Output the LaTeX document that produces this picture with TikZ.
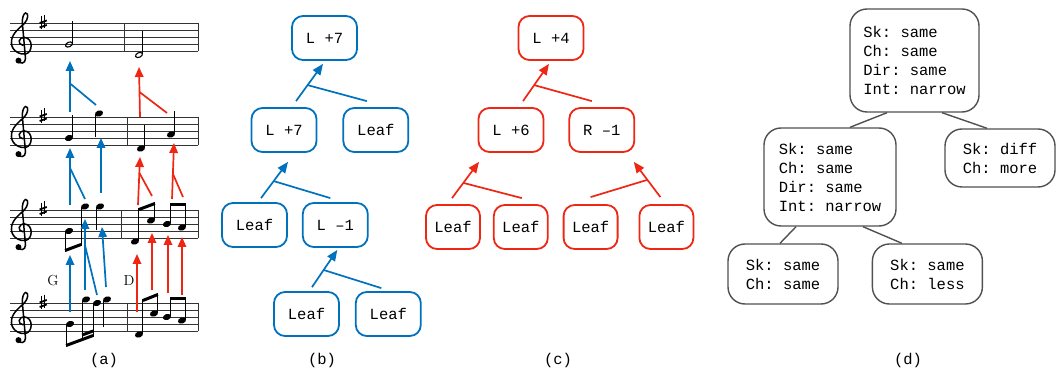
\documentclass[tikz,border=0pt]{standalone}
\usepackage{fontspec}
\setmonofont{Liberation Mono}
\usetikzlibrary{arrows.meta, positioning, calc}

\definecolor{treeblue}{RGB}{0,114,189}
\definecolor{treered}{RGB}{238,38,20}
\definecolor{treegray}{RGB}{80,80,80}

\tikzset{
	treebox/.style={draw, rounded corners=11pt, line width=1.8pt, minimum width=65pt, minimum height=44pt, inner sep=2pt, font=\ttfamily\fontsize{15.5}{19}\selectfont},
	bluebox/.style={treebox, draw=treeblue},
	redbox/.style={treebox, draw=treered},
	leafbox/.style={redbox, minimum width=54pt},
	infobox/.style={draw=treegray, rounded corners=17pt, line width=1.4pt, align=left, inner sep=2pt, font=\ttfamily\fontsize{15.5}{19}\selectfont},
	bluelink/.style={treeblue, line width=1.7pt},
	redlink/.style={treered, line width=1.7pt},
	graylink/.style={treegray, line width=1.4pt},
	staffline/.style={black!80, line width=0.9pt},
	notestem/.style={line width=0.9pt},
	beam/.style={line width=3pt},
	caption/.style={font=\ttfamily\fontsize{15.5}{19}\selectfont},
}

\newcommand{\gclef}[2]{%
	\begin{scope}[shift={(#1,#2)}, x=7.8pt, y=7pt]
		\draw[line width=1.5pt, line cap=round] (-0.45,-1.35) .. controls (-0.3,-1.8) and (0.45,-1.8) .. (0.45,-1.0)
			-- (0.05,4.0) .. controls (0.0,4.8) and (0.2,5.4) .. (0.45,5.5)
			.. controls (0.9,5.5) and (0.8,4.6) .. (0.3,4.0)
			.. controls (-0.6,3.1) and (-1.4,2.4) .. (-1.35,1.2)
			.. controls (-1.3,-0.1) and (0.0,-0.5) .. (0.5,-0.35)
			.. controls (1.4,-0.1) and (1.45,1.9) .. (0.35,2.0)
			.. controls (-0.5,2.05) and (-0.6,1.0) .. (0.1,0.9);
		\fill (-0.45,-1.3) circle (3pt);
	\end{scope}}

\newcommand{\drawstaff}[2]{%
	\foreach \k in {0,...,4} \draw[staffline] (10,#1+7*\k) -- (198,#1+7*\k);
	\draw[staffline] (#2,#1) -- (#2,#1+28) (198,#1) -- (198,#1+28);
	\gclef{22}{#1+28}
	\draw[line width=0.7pt] (41.8,#1-7) -- (41.8,#1+6) (44.6,#1-8.5) -- (44.6,#1+4.5);
	\draw[line width=1.8pt] (39.6,#1-0.5) -- (46.8,#1-3) (39.6,#1+4) -- (46.8,#1+1.5);
}
\newcommand{\qnote}[2]{\fill[shift={(#1,#2)}, rotate=20] (0,0) ellipse (4.2pt and 3pt);}
\newcommand{\hnote}[2]{\draw[line width=1.1pt, shift={(#1,#2)}, rotate=25] (0,0) ellipse (3.7pt and 2.3pt);}

\begin{document}
\begin{tikzpicture}[x=1pt, y=-1pt, >={Triangle[length=11pt,width=9pt]}]
	\useasboundingbox (0,0) rectangle (1057,371);

	% (a) staves and notes
	\drawstaff{23.5}{124}
	\drawstaff{117}{127}
	\drawstaff{210}{121}
	\drawstaff{303}{127}

	\hnote{69}{44.5} \draw[notestem] (72.8,44) -- (72.8,21);
	\hnote{139}{55} \draw[notestem] (142.8,54) -- (142.8,31);

	\qnote{69}{138} \draw[notestem] (72.9,137) -- (72.9,115);
	\qnote{99}{113.5} \draw[notestem] (95.1,114.5) -- (95.1,137);
	\qnote{141}{148.5} \draw[notestem] (144.9,147.5) -- (144.9,125);
	\qnote{171}{134.5} \draw[notestem] (174.9,133.5) -- (174.9,111);

	\qnote{69}{231} \draw[notestem] (65.1,232) -- (65.1,252);
	\qnote{85}{206.5} \draw[notestem] (81.1,207.5) -- (81.1,246);
	\draw[beam] (65.1,250.5) -- (81.1,244.5);
	\qnote{100}{206.5} \draw[notestem] (96.1,207.5) -- (96.1,230);
	\qnote{135}{241.5} \draw[notestem] (138.9,240.5) -- (138.9,208);
	\qnote{151}{220.5} \draw[notestem] (154.9,219.5) -- (154.9,202);
	\draw[beam] (138.9,209.5) -- (154.9,203.5);
	\qnote{167}{224} \draw[notestem] (170.9,223) -- (170.9,203);
	\qnote{182}{227.5} \draw[notestem] (185.9,226.5) -- (185.9,203);
	\draw[beam] (170.9,204.5) -- (185.9,204.5);

	\qnote{70}{324} \draw[notestem] (66.1,325) -- (66.1,347);
	\qnote{86}{299.5} \draw[notestem] (82.1,300.5) -- (82.1,341);
	\qnote{97}{303} \draw[notestem] (93.1,304) -- (93.1,337);
	\draw[beam] (66.1,345.5) -- (93.1,335.5);
	\draw[beam] (82.1,335) -- (93.1,331);
	\qnote{107}{299.5} \draw[notestem] (103.1,300.5) -- (103.1,327);
	\qnote{139}{334.5} \draw[notestem] (142.9,333.5) -- (142.9,299);
	\qnote{154}{313.5} \draw[notestem] (157.9,312.5) -- (157.9,293);
	\draw[beam] (142.9,300.5) -- (157.9,294.5);
	\qnote{167}{317} \draw[notestem] (170.9,316) -- (170.9,297);
	\qnote{182}{320.5} \draw[notestem] (185.9,319.5) -- (185.9,297);
	\draw[beam] (170.9,298.5) -- (185.9,298.5);

	\node (keyG) at (53,281) {\fontsize{14.5}{15}\selectfont G};
	\node (keyD) at (129,281) {\fontsize{14.5}{15}\selectfont D};

	\begin{scope}[>={Triangle[length=10pt,width=8.5pt]}]
		\draw[bluelink,->] (70,112) -- (70,61) coordinate[pos=.56] (aJ1);
		\draw[bluelink] (96,105) -- (aJ1);
		\draw[bluelink,->] (70,205) -- (70,148) coordinate[pos=.65] (aJ2);
		\draw[bluelink] (85,199) -- (aJ2);
		\draw[bluelink,->] (101,193) -- (101,138);
		\draw[bluelink,->] (70,312) -- (70,255);
		\draw[bluelink,->] (85,290) -- (85,219) coordinate[pos=.63] (aJ3);
		\draw[bluelink] (97,295) -- (aJ3);
		\draw[bluelink,->] (106,287) -- (102,227);

		\draw[redlink,->] (140,117) -- (139,67) coordinate[pos=.5] (aJ4);
		\draw[redlink] (167,113) -- (aJ4);
		\draw[redlink,->] (138,205) -- (140,157) coordinate[pos=.67] (aJ5);
		\draw[redlink] (152,196) -- (aJ5);
		\draw[redlink,->] (172,199) -- (174,143) coordinate[pos=.45] (aJ6);
		\draw[redlink] (183,197) -- (aJ6);
		\draw[redlink,->] (137,312) -- (137,254);
		\draw[redlink,->] (152,290) -- (152,233);
		\draw[redlink,->] (168,293) -- (168,235);
		\draw[redlink,->] (182,295) -- (182,237);
	\end{scope}

	% (b)
	\node[bluebox] (bTop) at (324.5,38) {L +7};
	\node[bluebox] (bL7) at (284,130) {L +7};
	\node[bluebox, right=25pt of bL7] (bLf) {Leaf};
	\node[bluebox] (bLf1) at (254.5,225) {Leaf};
	\node[bluebox, right=14pt of bLf1] (bLm1) {L –1};
	\node[bluebox] (bLf3) at (306.5,314) {Leaf};
	\node[bluebox, right=15pt of bLf3] (bLf4) {Leaf};

	\draw[bluelink,->] ([xshift=12pt,yshift=6pt]bL7.north) -- ([xshift=-1.5pt,yshift=-3pt]bTop.south) coordinate[pos=.43] (bJ1);
	\draw[bluelink] ([xshift=-9pt,yshift=6pt]bLf.north) -- (bJ1);
	\draw[bluelink,->] ([xshift=6.5pt,yshift=4pt]bLf1.north) -- ([xshift=4pt,yshift=-9pt]bL7.south) coordinate[pos=.47] (bJ2);
	\draw[bluelink] ([xshift=-5pt,yshift=4pt]bLm1.north) -- (bJ2);
	\draw[bluelink,->] ([xshift=5.5pt,yshift=4pt]bLf3.north) -- ([xshift=2pt,yshift=-2pt]bLm1.south) coordinate[pos=.46] (bJ3);
	\draw[bluelink] ([xshift=-7pt,yshift=3pt]bLf4.north) -- (bJ3);

	% (c)
	\node[redbox] (cTop) at (551,38) {L +4};
	\node[redbox] (cL6) at (511,130) {L +6};
	\node[redbox, right=24pt of cL6] (cR1) {R –1};
	\node[leafbox] (cLf1) at (453,227) {Leaf};
	\node[leafbox, right=12pt of cLf1] (cLf2) {Leaf};
	\node[leafbox, right=14pt of cLf2] (cLf3) {Leaf};
	\node[leafbox, right=20pt of cLf3] (cLf4) {Leaf};

	\draw[redlink,->] ([xshift=12pt,yshift=6pt]cL6.north) -- ([xshift=-2pt,yshift=-3pt]cTop.south) coordinate[pos=.43] (cJ1);
	\draw[redlink] ([xshift=-10pt,yshift=6pt]cR1.north) -- (cJ1);
	\draw[redlink,->] ([xshift=-1pt,yshift=6pt]cLf1.north) -- ([xshift=-32pt,yshift=-9pt]cL6.south) coordinate[pos=.42] (cJ2);
	\draw[redlink] ([xshift=1pt,yshift=6pt]cLf2.north) -- (cJ2);
	\draw[redlink,->] ([xshift=-6pt,yshift=7pt]cLf4.north) -- ([xshift=32pt,yshift=-9pt]cR1.south) coordinate[pos=.49] (cJ3);
	\draw[redlink] ([yshift=7pt]cLf3.north) -- (cJ3);

	% (d)
	\node[infobox, minimum width=129pt, minimum height=103pt] (dTop) at (914.5,60.5) {Sk: same\\Ch: same\\Dir: same\\Int: narrow};
	\node[infobox, minimum width=132pt, minimum height=98pt] (dMid) at (830,177) {Sk: same\\Ch: same\\Dir: same\\Int: narrow};
	\node[infobox, minimum width=110pt, minimum height=58pt] (dRt) at (1000,158) {Sk: diff\\Ch: more};
	\node[infobox, minimum width=110pt, minimum height=60pt] (dBL) at (783,274) {Sk: same\\Ch: same};
	\node[infobox, minimum width=110pt, minimum height=60pt, right=33pt of dBL] (dBR) {Sk: same\\Ch: less};

	\draw[graylink] ([xshift=-27.5pt]dTop.south) -- ([xshift=20pt]dMid.north);
	\draw[graylink] ([xshift=27.5pt]dTop.south) -- ([xshift=-13pt]dRt.north);
	\draw[graylink] ([xshift=-34pt]dMid.south) -- ([xshift=-3pt]dBL.north);
	\draw[graylink] ([xshift=33pt]dMid.south) -- ([xshift=-25.5pt]dBR.north);

	\node[caption] (capA) at (104,360) {(a)};
	\node[caption] (capB) at (322,360) {(b)};
	\node[caption] (capC) at (558,360) {(c)};
	\node[caption] (capD) at (908,360) {(d)};
\end{tikzpicture}
\end{document}
